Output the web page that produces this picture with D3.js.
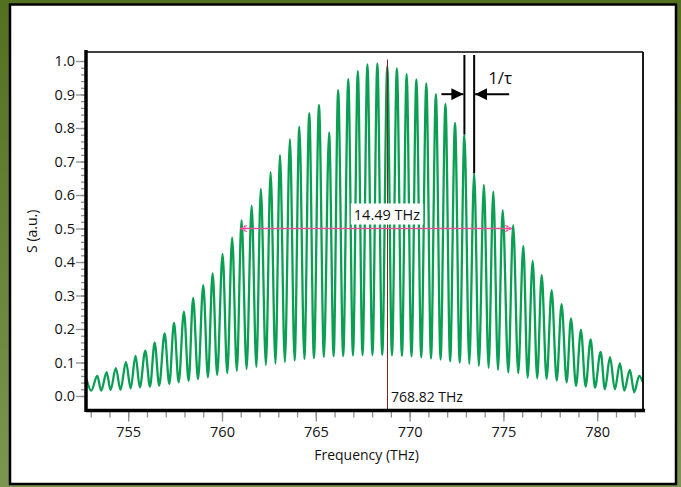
<!DOCTYPE html>
<html><head><meta charset="utf-8">
<script src="https://cdnjs.cloudflare.com/ajax/libs/d3/7.8.5/d3.min.js"></script>
<style>html,body{margin:0;padding:0;background:#fff;overflow:hidden} svg{display:block}</style>
</head><body><svg id="chart" width="681" height="487"></svg>
<script>
// ---- data ----
const peakFreq = [752.78, 753.35, 753.85, 754.34, 754.88, 755.39, 755.91, 756.41, 756.94, 757.44, 757.97,
  758.46, 759.00, 759.50, 760.03, 760.54, 761.04, 761.58, 762.07, 762.59, 763.09,
  763.62, 764.12, 764.65, 765.17, 765.71, 766.19, 766.73, 767.24, 767.75, 768.28,
  768.81, 769.32, 769.84, 770.36, 770.89, 771.40, 771.91, 772.42, 772.92, 773.44,
  773.96, 774.46, 774.96, 775.52, 776.06, 776.56, 777.04, 777.57, 778.10, 778.60,
  779.13, 779.65, 780.18, 780.68, 781.21, 781.74, 782.24];
const peakS = [0.050, 0.060, 0.071, 0.083, 0.102, 0.120, 0.135, 0.159, 0.187, 0.219, 0.252,
  0.293, 0.331, 0.366, 0.424, 0.473, 0.525, 0.568, 0.618, 0.668, 0.719,
  0.767, 0.804, 0.844, 0.869, 0.787, 0.913, 0.946, 0.970, 0.990, 0.993,
  0.985, 0.978, 0.961, 0.945, 0.933, 0.901, 0.872, 0.815, 0.781, 0.665,
  0.630, 0.610, 0.555, 0.510, 0.448, 0.403, 0.361, 0.316, 0.274, 0.232,
  0.197, 0.169, 0.132, 0.116, 0.098, 0.078, 0.060];
const troughFreq = [753.03, 753.56, 754.06, 754.59, 755.13, 755.62, 756.16, 756.65, 757.19, 757.69,
  758.22, 758.72, 759.25, 759.74, 760.28, 760.79, 761.31, 761.83, 762.34, 762.85,
  763.35, 763.87, 764.39, 764.90, 765.43, 765.95, 766.46, 766.98, 767.49, 768.02,
  768.54, 769.06, 769.59, 770.10, 770.62, 771.14, 771.65, 772.16, 772.67, 773.18,
  773.69, 774.21, 774.71, 775.26, 775.79, 776.29, 776.80, 777.30, 777.84, 778.37,
  778.87, 779.38, 779.88, 780.41, 780.94, 781.44, 781.97, 782.42];
const troughS = [0.016, 0.016, 0.018, 0.018, 0.023, 0.026, 0.028, 0.031, 0.036, 0.041,
  0.045, 0.050, 0.056, 0.063, 0.068, 0.075, 0.081, 0.087, 0.093, 0.097,
  0.101, 0.106, 0.110, 0.113, 0.116, 0.118, 0.119, 0.121, 0.122, 0.122,
  0.122, 0.121, 0.119, 0.118, 0.115, 0.112, 0.109, 0.104, 0.100, 0.096,
  0.090, 0.084, 0.078, 0.070, 0.068, 0.055, 0.053, 0.051, 0.046, 0.041,
  0.030, 0.028, 0.025, 0.020, 0.020, 0.016, 0.011, 0.043];
const xDomain = [752.75, 782.44];
const yDomain = [-0.0433, 1.0269];
const xTickValues = [755, 760, 765, 770, 775, 780];
const xMinorTicks = d3.range(753, 783, 1);
const yTickValues = [0, 0.1, 0.2, 0.3, 0.4, 0.5, 0.6, 0.7, 0.8, 0.9, 1.0];
const yMinorTicks = d3.range(0, 51).map(i => i * 0.02);
const fwhmFreqs = [760.96, 775.45];
const fwhmLevel = 0.5;
const fwhmLabel = "14.49 THz";
const centerFreq = 768.82;
const centerLabel = "768.82 THz";
const tauFreqs = [772.92, 773.44];
const tauPeakS = [0.781, 0.665];
const tauArrowLevel = 0.901;
const tauLabel = "1/τ";
const xLabel = "Frequency (THz)";
const yLabel = "S (a.u.)";

// ---- drawing ----
const svg = d3.select("#chart");
const W = 681, H = 487;
const M = {left: 86, right: 643, top: 52, bottom: 410.5};
const FONT = "'Open Sans', 'Noto Sans', sans-serif";

const defs = svg.append("defs");
const grad = defs.append("linearGradient").attr("id", "bg").attr("x1", 0).attr("y1", 0).attr("x2", 0).attr("y2", 1);
grad.append("stop").attr("offset", "0%").attr("stop-color", "#52701f");
grad.append("stop").attr("offset", "100%").attr("stop-color", "#7b9650");
defs.append("clipPath").attr("id", "plotclip").append("rect")
  .attr("x", M.left).attr("y", M.top).attr("width", M.right - M.left).attr("height", M.bottom - M.top);
const mk = defs.append("marker").attr("id", "ahead").attr("viewBox", "0 0 10 10")
  .attr("refX", 10).attr("refY", 5).attr("markerWidth", 12).attr("markerHeight", 12)
  .attr("markerUnits", "userSpaceOnUse").attr("orient", "auto");
mk.append("path").attr("d", "M0,0 L10,5 L0,10 Z").attr("fill", "#000");
const pk = defs.append("marker").attr("id", "phead").attr("viewBox", "0 0 10 10")
  .attr("refX", 10).attr("refY", 5).attr("markerWidth", 8).attr("markerHeight", 8)
  .attr("markerUnits", "userSpaceOnUse").attr("orient", "auto-start-reverse");
pk.append("path").attr("d", "M1,1 L10,5 L1,9 M4,1 L4,9").attr("fill", "none").attr("stroke", "#e8509a").attr("stroke-width", 1.2);

svg.append("rect").attr("x", 0).attr("y", 0).attr("width", W).attr("height", H).attr("fill", "url(#bg)");
svg.append("rect").attr("x", 10).attr("y", 4.5).attr("width", 666).attr("height", 479.5)
  .attr("fill", "#fff").attr("stroke", "#000").attr("stroke-width", 2.5);

const x = d3.scaleLinear().domain(xDomain).range([M.left, M.right]);
const y = d3.scaleLinear().domain(yDomain).range([M.bottom, M.top]);

// minor ticks
svg.append("g").attr("transform", `translate(${M.left},0)`)
  .call(d3.axisLeft(y).tickValues(yMinorTicks).tickSize(5).tickFormat(""))
  .call(g => g.select(".domain").remove())
  .call(g => g.selectAll("line").attr("stroke", "#8a8f96").attr("stroke-width", 1.3));
svg.append("g").attr("transform", `translate(0,${M.bottom})`)
  .call(d3.axisBottom(x).tickValues(xMinorTicks).tickSize(7).tickFormat(""))
  .call(g => g.select(".domain").remove())
  .call(g => g.selectAll("line").attr("stroke", "#8a8f96").attr("stroke-width", 1.3));
// major ticks
svg.append("g").attr("transform", `translate(${M.left},0)`)
  .call(d3.axisLeft(y).tickValues(yTickValues).tickSize(10).tickPadding(1).tickFormat(d3.format(".1f")))
  .call(g => g.select(".domain").remove())
  .call(g => g.selectAll("line").attr("stroke", "#8a8f96").attr("stroke-width", 1.3))
  .call(g => g.selectAll("text").attr("font-family", FONT).attr("font-size", 14.5).attr("fill", "#111"));
svg.append("g").attr("transform", `translate(0,${M.bottom})`)
  .call(d3.axisBottom(x).tickValues(xTickValues).tickSize(11).tickPadding(5).tickFormat(d3.format("d")))
  .call(g => g.select(".domain").remove())
  .call(g => g.selectAll("line").attr("stroke", "#8a8f96").attr("stroke-width", 1.3))
  .call(g => g.selectAll("text").attr("font-family", FONT).attr("font-size", 14.5).attr("fill", "#111"));

// data line
const pts = peakFreq.map((f, i) => [f, peakS[i]])
  .concat(troughFreq.map((f, i) => [f, troughS[i]]))
  .sort((a, b) => a[0] - b[0]);
const line = d3.line().x(d => x(d[0])).y(d => y(d[1])).curve(d3.curveMonotoneX);
svg.append("path").attr("d", line(pts)).attr("fill", "none")
  .attr("stroke", "#0a9f52").attr("stroke-width", 2.3).attr("stroke-linejoin", "round")
  .attr("clip-path", "url(#plotclip)");

// center line
svg.append("line").attr("x1", x(centerFreq)).attr("x2", x(centerFreq))
  .attr("y1", y(1.0) - 1.5).attr("y2", M.bottom).attr("stroke", "#7a2020").attr("stroke-width", 1);
svg.append("text").attr("x", x(centerFreq) + 3.5).attr("y", y(0) + 6).text(centerLabel)
  .attr("font-family", FONT).attr("font-size", 14).attr("fill", "#111");

// FWHM arrow
svg.append("line").attr("x1", x(fwhmFreqs[0])).attr("x2", x(fwhmFreqs[1]))
  .attr("y1", y(fwhmLevel)).attr("y2", y(fwhmLevel))
  .attr("stroke", "#e8509a").attr("stroke-width", 1.6)
  .attr("marker-start", "url(#phead)").attr("marker-end", "url(#phead)");
const fx = (x(fwhmFreqs[0]) + x(fwhmFreqs[1])) / 2 + 11;
const lbl = svg.append("g");
const ft = lbl.append("text").attr("x", fx).attr("y", y(fwhmLevel) - 9).attr("text-anchor", "middle")
  .text(fwhmLabel).attr("font-family", FONT).attr("font-size", 14.5).attr("fill", "#111");
const bb = ft.node().getBBox();
lbl.insert("rect", "text").attr("x", bb.x - 3).attr("y", bb.y - 1).attr("width", bb.width + 6).attr("height", bb.height + 2).attr("fill", "#fff");

// 1/tau annotation
tauFreqs.forEach((f, i) => {
  svg.append("line").attr("x1", x(f)).attr("x2", x(f)).attr("y1", M.top + 3).attr("y2", y(tauPeakS[i]))
    .attr("stroke", "#000").attr("stroke-width", 2);
});
const ay = y(tauArrowLevel);
svg.append("line").attr("x1", x(tauFreqs[0]) - 23).attr("x2", x(tauFreqs[0]) - 1).attr("y1", ay).attr("y2", ay)
  .attr("stroke", "#000").attr("stroke-width", 2).attr("marker-end", "url(#ahead)");
svg.append("line").attr("x1", x(tauFreqs[1]) + 35).attr("x2", x(tauFreqs[1]) + 1).attr("y1", ay).attr("y2", ay)
  .attr("stroke", "#000").attr("stroke-width", 2).attr("marker-end", "url(#ahead)");
svg.append("text").attr("x", x(tauFreqs[1]) + 26).attr("y", ay - 10).attr("text-anchor", "middle")
  .text(tauLabel).attr("font-family", FONT).attr("font-size", 17).attr("fill", "#111");

// frame
svg.append("line").attr("x1", M.left).attr("x2", M.right).attr("y1", M.top).attr("y2", M.top).attr("stroke", "#000").attr("stroke-width", 1.6);
svg.append("line").attr("x1", M.right).attr("x2", M.right).attr("y1", M.top).attr("y2", M.bottom).attr("stroke", "#000").attr("stroke-width", 1.8);
svg.append("line").attr("x1", M.left).attr("x2", M.left).attr("y1", M.top - 2).attr("y2", M.bottom + 1.5).attr("stroke", "#000").attr("stroke-width", 3.5);
svg.append("line").attr("x1", M.left).attr("x2", M.right + 2).attr("y1", M.bottom).attr("y2", M.bottom).attr("stroke", "#000").attr("stroke-width", 3.5);

// axis titles
svg.append("text").attr("x", (M.left + M.right) / 2 + 2).attr("y", 460).attr("text-anchor", "middle")
  .text(xLabel).attr("font-family", FONT).attr("font-size", 14).attr("fill", "#111");
svg.append("text").attr("transform", `translate(37,${(M.top + M.bottom) / 2}) rotate(-90)`).attr("text-anchor", "middle")
  .text(yLabel).attr("font-family", FONT).attr("font-size", 14).attr("fill", "#111");
</script></body></html>
